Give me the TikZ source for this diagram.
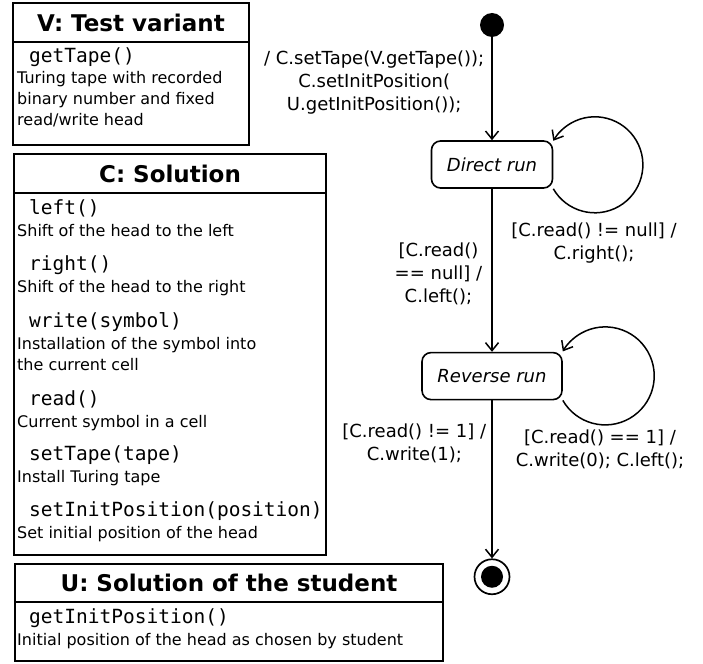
\documentclass[tikz,border=0pt]{standalone}
\usepackage{fontspec}
\setmainfont{DejaVu Sans}
\setmonofont{DejaVu Sans Mono}
\usetikzlibrary{arrows.meta,positioning}

\begin{document}
\begin{tikzpicture}[x=1pt, y=-1pt,
    box/.style={draw, line width=1.8pt, inner sep=0pt, outer sep=0pt, anchor=north west},
    title/.style={box, font=\fontsize{23}{26}\selectfont\bfseries},
    oper/.style={anchor=base west, inner sep=0pt, font=\fontsize{19.5}{22}\ttfamily},
    desc/.style={anchor=base west, inner sep=0pt, font=\fontsize{16}{20}\selectfont},
    state/.style={draw, line width=1.6pt, rounded corners=9pt, minimum height=47pt, inner sep=0pt, font=\fontsize{18}{22}\selectfont\itshape},
    trans/.style={line width=1.5pt, -{Straight Barb[length=8pt,width=13pt]}},
    lbl/.style={align=center, inner sep=0pt, font=\fontsize{18}{23}\selectfont}]
  \useasboundingbox (0,0) rectangle (703,663);

  % Class V
  \node[title, minimum width=236pt, minimum height=39pt] (vhead) at (13,3) {V: Test variant};
  \node[box, minimum width=236pt, minimum height=103pt] (vbody) at (vhead.south west) {};
  \node[oper] (gettape) at (29,63) {getTape()};
  \node[desc] (gettape1) at (17,84) {Turing tape with recorded};
  \node[desc] (gettape2) at (17,105) {binary number and fixed};
  \node[desc] (gettape3) at (17,126) {read/write head};

  % Class C
  \node[title, minimum width=312pt, minimum height=39pt] (chead) at (14,154) {C: Solution};
  \node[box, minimum width=312pt, minimum height=362pt] (cbody) at (chead.south west) {};
  \node[oper] (left) at (29,214) {left()};
  \node[desc] (left1) at (17,236) {Shift of the head to the left};
  \node[oper] (right) at (29,270) {right()};
  \node[desc] (right1) at (17,292) {Shift of the head to the right};
  \node[oper] (write) at (29,327) {write(symbol)};
  \node[desc] (write1) at (17,349) {Installation of the symbol into};
  \node[desc] (write2) at (17,370) {the current cell};
  \node[oper] (read) at (29,405) {read()};
  \node[desc] (read1) at (17,427) {Current symbol in a cell};
  \node[oper] (settape) at (29,460) {setTape(tape)};
  \node[desc] (settape1) at (17,482) {Install Turing tape};
  \node[oper] (setinit) at (29,516) {setInitPosition(position)};
  \node[desc] (setinit1) at (17,538) {Set initial position of the head};

  % Class U
  \node[title, minimum width=428pt, minimum height=38pt] (uhead) at (15,564) {U: Solution of the student};
  \node[box, minimum width=428pt, minimum height=59pt] (ubody) at (uhead.south west) {};
  \node[oper] (getinit) at (29,623) {getInitPosition()};
  \node[desc] (getinit1) at (17,645) {Initial position of the head as chosen by student};

  % State machine
  \node[circle, fill, minimum size=24pt, inner sep=0pt] (init) at (492,25) {};
  \node[state, minimum width=121pt, below=103pt of init] (direct) {Direct run};
  \node[state, minimum width=140pt, below=163pt of direct] (reverse) {Reverse run};
  \node[circle, draw, line width=1.7pt, minimum size=35pt, inner sep=0pt, below=158pt of reverse] (final) {};
  \node[circle, fill, minimum size=22pt, inner sep=0pt] (finaldot) at (final) {};

  \draw[trans] (init) -- node[lbl, pos=0.44, left=7pt] (initlbl)
    {/ C.setTape(V.getTape());\\C.setInitPosition(\\U.getInitPosition());} (direct);
  \draw[trans] (direct) -- node[lbl, pos=0.52, left=9pt] (leftlbl)
    {[C.read()\\== null] /\\C.left();} (reverse);
  \draw[trans] (reverse) -- node[lbl, pos=0.27, left=5pt] (writelbl)
    {[C.read() != 1] /\\C.write(1);} (final);

  % Self loops
  \draw[trans] (direct.south east) arc[start angle=-150, end angle=150, radius=48pt];
  \node[lbl, anchor=north] (rightlbl) at (594,223) {[C.read() != null] /\\C.right();};
  \draw[trans] (reverse.south east) arc[start angle=-150, end angle=150, radius=49pt];
  \node[lbl, anchor=north] (zerolbl) at (600,430) {[C.read() == 1] /\\C.write(0); C.left();};
\end{tikzpicture}
\end{document}
